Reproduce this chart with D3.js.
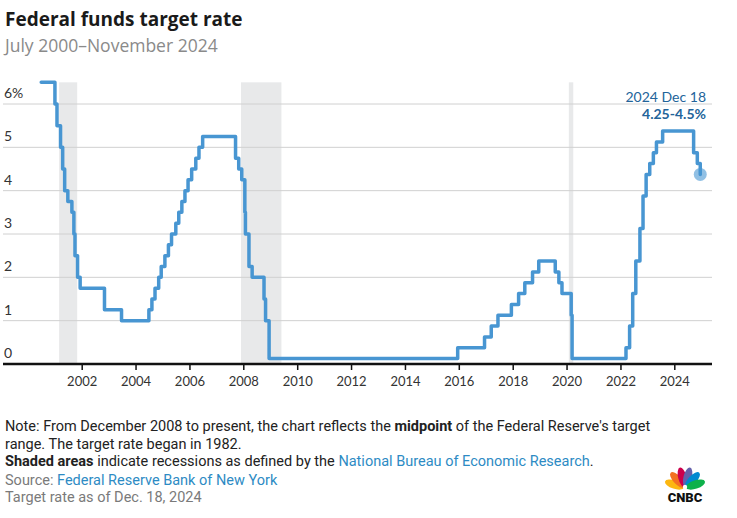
<!DOCTYPE html>
<html><head><meta charset="utf-8">
<script src="https://cdn.jsdelivr.net/npm/d3@7"></script>
<style>
body{margin:0;background:#fff;}
svg{display:block;font-family:Lato, "Open Sans", sans-serif;}
</style></head>
<body>
<svg id="chart" width="737" height="518"></svg>
<script>
// ---- data ----
const changeDates = ["2000-07-01","2001-01-03","2001-01-31","2001-03-20","2001-04-18","2001-05-15","2001-06-27","2001-08-21","2001-09-17","2001-10-02","2001-11-06","2001-12-11","2002-11-06","2003-06-25","2004-06-30","2004-08-10","2004-09-21","2004-11-10","2004-12-14","2005-02-02","2005-03-22","2005-05-03","2005-06-30","2005-08-09","2005-09-20","2005-11-01","2005-12-13","2006-01-31","2006-03-28","2006-05-10","2006-06-29","2007-09-18","2007-10-31","2007-12-11","2008-01-22","2008-01-30","2008-03-18","2008-04-30","2008-10-08","2008-10-29","2008-12-16","2015-12-17","2016-12-15","2017-03-16","2017-06-15","2017-12-14","2018-03-22","2018-06-14","2018-09-27","2018-12-20","2019-08-01","2019-09-19","2019-10-31","2020-03-04","2020-03-16","2022-03-17","2022-05-05","2022-06-16","2022-07-28","2022-09-22","2022-11-03","2022-12-15","2023-02-02","2023-03-23","2023-05-04","2023-07-27","2024-09-19","2024-11-08","2024-12-18"];
const rates = [6.5,6.0,5.5,5.0,4.5,4.0,3.75,3.5,3.0,2.5,2.0,1.75,1.25,1.0,1.25,1.5,1.75,2.0,2.25,2.5,2.75,3.0,3.25,3.5,3.75,4.0,4.25,4.5,4.75,5.0,5.25,4.75,4.5,4.25,3.5,3.0,2.25,2.0,1.5,1.0,0.125,0.375,0.625,0.875,1.125,1.375,1.625,1.875,2.125,2.375,2.125,1.875,1.625,1.125,0.125,0.375,0.875,1.625,2.375,3.125,3.875,4.375,4.625,4.875,5.125,5.375,4.875,4.625,4.375];
const recessionStarts = ["2001-03-01","2007-12-01","2020-02-01"];
const recessionEnds = ["2001-11-01","2009-06-01","2020-04-01"];
const yTicks = [0,1,2,3,4,5,6];
const xTickYears = [2002,2004,2006,2008,2010,2012,2014,2016,2018,2020,2022,2024];
const annotationDate = "2024 Dec 18";
const annotationValue = "4.25-4.5%";

const parse = d3.timeParse("%Y-%m-%d");
const series = changeDates.map((d,i)=>({date:parse(d), rate:rates[i]}));

const svg = d3.select("#chart");
const x = d3.scaleTime().domain([new Date(2002,0,1), new Date(2024,0,1)]).range([81.7, 674.3]);
const y = d3.scaleLinear().domain([0,6]).range([364, 104]);
const left = 3, right = 712;

// title
svg.append("text").attr("x",5).attr("y",26).attr("font-size",19).attr("font-weight",700)
  .attr("font-family","'Open Sans', sans-serif").attr("fill","#1a1a1a").text("Federal funds target rate");
svg.append("text").attr("x",5).attr("y",52).attr("font-size",17.5)
  .attr("font-family","'Open Sans', sans-serif").attr("fill","#8a8a8a").text("July 2000–November 2024");

// recessions
svg.append("g").selectAll("rect").data(recessionStarts.map((s,i)=>({s:parse(s),e:parse(recessionEnds[i])})))
  .join("rect").attr("x",d=>x(d.s)).attr("width",d=>x(d.e)-x(d.s))
  .attr("y",y(6.5)).attr("height",y(0)-y(6.5)).attr("fill","#e8e9ea");

// gridlines
const grid = svg.append("g");
grid.selectAll("line").data(yTicks.filter(d=>d>0)).join("line")
  .attr("x1",left).attr("x2",right).attr("y1",d=>y(d)).attr("y2",d=>y(d))
  .attr("stroke","#d0d0d0").attr("stroke-width",1);
grid.selectAll("text").data(yTicks).join("text")
  .attr("x",left+1).attr("y",d=>y(d)-6).attr("font-size",14).attr("fill","#333")
  .text(d=>d===6?"6%":d);

// x axis
const xAxis = d3.axisBottom(x).tickValues(xTickYears.map(yv=>new Date(yv,0,1)))
  .tickFormat(d3.timeFormat("%Y")).tickSize(6).tickSizeOuter(0);
const gx = svg.append("g").attr("transform",`translate(0,${y(0)})`).call(xAxis);
gx.select(".domain").remove();
gx.selectAll(".tick line").attr("stroke","#111").attr("stroke-width",1.5);
gx.selectAll(".tick text").attr("font-size",13).attr("fill","#333").attr("dy","1.0em").attr("font-family","Lato, sans-serif");
svg.append("line").attr("x1",left).attr("x2",right).attr("y1",y(0)).attr("y2",y(0)).attr("stroke","#111").attr("stroke-width",2.5);

// line
const line = d3.line().x(d=>x(d.date)).y(d=>y(d.rate)).curve(d3.curveStepAfter);
svg.append("path").datum(series).attr("d",line).attr("fill","none")
  .attr("stroke","#4896d2").attr("stroke-width",3.5).attr("stroke-linejoin","round").attr("stroke-linecap","round");

// end dot
const last = series[series.length-1];
svg.append("circle").attr("cx",x(last.date)).attr("cy",y(last.rate)).attr("r",6.5)
  .attr("fill","#4896d2").attr("fill-opacity",0.6);

// annotation
svg.append("text").attr("x",706).attr("y",102).attr("text-anchor","end").attr("font-size",14).attr("fill","#23649a").text(annotationDate);
svg.append("text").attr("x",706).attr("y",119).attr("text-anchor","end").attr("font-size",14).attr("font-weight",700).attr("fill","#23649a").text(annotationValue);

// footer
const foot = svg.append("g").attr("font-family","Roboto, sans-serif").attr("font-size",14.5).attr("fill","#222");
const t1 = foot.append("text").attr("x",5).attr("y",431);
t1.append("tspan").text("Note: From December 2008 to present, the chart reflects the ");
t1.append("tspan").attr("font-weight",700).text("midpoint");
t1.append("tspan").text(" of the Federal Reserve's target");
foot.append("text").attr("x",5).attr("y",449).text("range. The target rate began in 1982.");
const t3 = foot.append("text").attr("x",5).attr("y",466);
t3.append("tspan").attr("font-weight",700).text("Shaded areas");
t3.append("tspan").text(" indicate recessions as defined by the ");
t3.append("tspan").attr("fill","#2d8bc4").text("National Bureau of Economic Research");
t3.append("tspan").text(".");
const t4 = foot.append("text").attr("x",5).attr("y",485).attr("fill","#7a7a7a");
t4.append("tspan").text("Source: ");
t4.append("tspan").attr("fill","#2d8bc4").text("Federal Reserve Bank of New York");
foot.append("text").attr("x",5).attr("y",502).attr("fill","#7a7a7a").text("Target rate as of Dec. 18, 2024");

// CNBC logo
const logo = svg.append("g").attr("transform","translate(685,488)");
const featherColors = ["#fcb711","#f37021","#cc004c","#6460aa","#0089d0","#0db14b"];
const angles = [-72,-43,-14,14,43,72];
featherColors.forEach((c,i)=>{
  logo.append("ellipse").attr("cx",0).attr("cy",-11).attr("rx",4.2).attr("ry",10)
    .attr("fill",c).attr("transform",`rotate(${angles[i]})`);
});
logo.append("circle").attr("cx",0).attr("cy",-1).attr("r",2.2).attr("fill","#fff");
logo.append("text").attr("x",0).attr("y",14).attr("text-anchor","middle").attr("font-size",13)
  .attr("font-weight",900).attr("font-family","Roboto, sans-serif").attr("fill","#111").text("CNBC");
</script>
</body></html>
